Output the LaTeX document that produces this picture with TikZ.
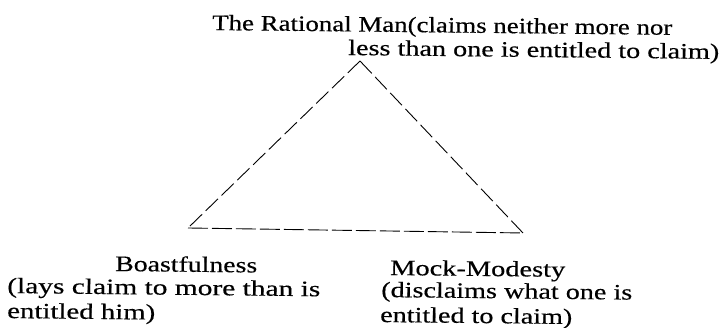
\documentclass[tikz,border=0pt]{standalone}
\usepackage{fontspec}
\setmainfont[FakeBold=0.35]{Liberation Serif}
\usepackage{graphicx}
\newcommand{\fitto}[2]{\resizebox{#1}{\height}{#2}}
\tikzset{
  lbl/.style={inner sep=0pt, anchor=base west, rotate=-0.6, font=\fontsize{22}{26}\selectfont},
  sidedash/.style={line width=0.9pt, dash pattern=on 17pt off 5pt},
  basedash/.style={line width=0.9pt, dash pattern=on 20pt off 4pt}
}
\begin{document}
\begin{tikzpicture}[x=1pt,y=1pt]
\useasboundingbox (0,0) rectangle (724,328);
% triangle vertices
\coordinate (apex) at (360,267);
\coordinate (bl) at (188,100);
\coordinate (br) at (523,95);
\draw[sidedash] (apex) -- (bl);
\draw[sidedash] (apex) -- (br);
\draw[basedash] (bl) -- (br);
% labels
\node[lbl] (top1) at (212,298) {\fitto{460pt}{The Rational Man(claims neither more nor}};
\node[lbl] (top2) at (348,273) {\fitto{371pt}{less than one is entitled to claim)}};
\node[lbl] (b1) at (115,57) {\fitto{142pt}{Boastfulness}};
\node[lbl] (b2) at (7,35) {\fitto{313pt}{(lays claim to more than is}};
\node[lbl] (b3) at (7,10) {\fitto{148pt}{entitled him)}};
\node[lbl] (m1) at (390,53) {\fitto{175pt}{Mock-Modesty}};
\node[lbl] (m2) at (381,31) {\fitto{251pt}{(disclaims what one is}};
\node[lbl] (m3) at (380,6) {\fitto{192pt}{entitled to claim)}};
\end{tikzpicture}
\end{document}
